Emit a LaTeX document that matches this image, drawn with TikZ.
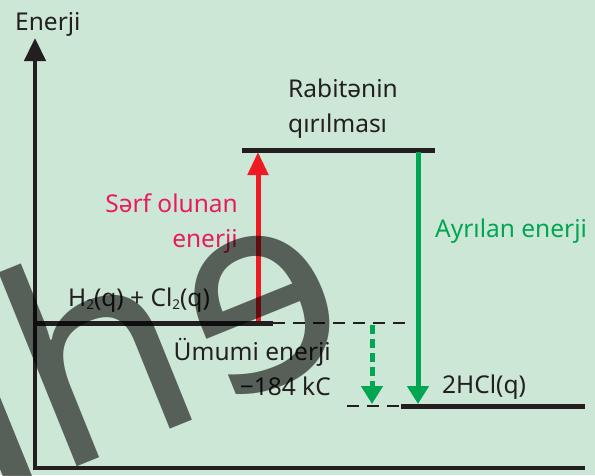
\documentclass[tikz,border=0pt]{standalone}
\usepackage{fontspec}
\setmainfont{Noto Sans}
\usetikzlibrary{arrows.meta}
\definecolor{bg}{RGB}{205,231,214}
\definecolor{ink}{RGB}{35,31,32}
\definecolor{arrred}{RGB}{237,28,36}
\definecolor{txtred}{RGB}{232,28,90}
\definecolor{grn}{RGB}{0,166,81}
\newcommand{\sub}[1]{\raisebox{-0.28ex}{\fontsize{13.5}{13.5}\selectfont #1}}
\tikzset{
  lbl/.style={inner sep=0pt, font=\fontsize{24.5}{28}\selectfont, text=ink},
  axis/.style={line width=4.6pt, draw=ink},
  level/.style={line width=5pt, draw=ink},
  guide/.style={line width=2.4pt, draw=ink, dash pattern=on 12pt off 8pt},
  upar/.style={line width=5pt, draw=arrred, -{Triangle[length=23pt,width=20pt]}},
  dnar/.style={line width=5pt, draw=grn, -{Triangle[length=18pt,width=21pt]}},
  dnard/.style={dnar, dash pattern=on 9pt off 5pt},
  wm/.style={inner sep=0pt, text=black, text opacity=0.58, font=\fontsize{275}{275}\selectfont, rotate=22},
  wmfill/.style={fill=black, fill opacity=0.58}
}
\begin{document}
\begin{tikzpicture}[x=1pt,y=-1pt]
\useasboundingbox (0,0) rectangle (595,475);
\clip (0,0) rectangle (595,475);
\fill[bg] (0,0) rectangle (595,475);
% coordinates
\coordinate (axb) at (35,470);
\coordinate (axt) at (35,38);
\coordinate (axl) at (33,468);
\coordinate (axr) at (585,468);
\coordinate (ra) at (35,323);
\coordinate (rb) at (273,323);
\coordinate (rc) at (412,323);
\coordinate (ta) at (242,150);
\coordinate (tb) at (435,150);
\coordinate (pa) at (401,406);
\coordinate (pb) at (585,406);
\coordinate (pc) at (347,406);
\coordinate (r1) at (258,321);
\coordinate (r2) at (258,152);
\coordinate (g1) at (418,152);
\coordinate (g2) at (418,404);
\coordinate (d1) at (372,325);
\coordinate (d2) at (372,404);
% axes
\draw[axis, -{Triangle[length=23pt,width=21pt]}] (axb) -- (axt);
\draw[axis] (axl) -- (axr);
% levels
\draw[guide] (rb) -- (rc);
\draw[guide] (pc) -- (pa);
\draw[upar] (r1) -- (r2);
\draw[level] (ra) -- (rb);
\draw[level] (ta) -- (tb);
\draw[level] (pa) -- (pb);
\draw[dnar] (g1) -- (g2);
\draw[dnard] (d1) -- (d2);
% labels
\node[lbl, anchor=base west] (en) at (15,30) {Enerji};
\node[lbl, anchor=base west] (rab1) at (288,97) {Rabitənin};
\node[lbl, anchor=base west] (rab2) at (288,132) {qırılması};
\node[lbl, anchor=base east, text=txtred] (sarf1) at (238,212) {Sərf olunan};
\node[lbl, anchor=base east, text=txtred] (sarf2) at (238,247) {enerji};
\node[lbl, anchor=base west, text=grn] (ayr) at (435,237) {Ayrılan enerji};
\node[lbl, anchor=base west] (reac) at (68,306) {H\sub{2}(q) + Cl\sub{2}(q)};
\node[lbl, anchor=base east] (um1) at (331,360) {Ümumi enerji};
\node[lbl, anchor=base east] (um2) at (331,395) {−184 kC};
\node[lbl, anchor=base west] (prod) at (442,393) {2HCl(q)};
% watermark
\fill[wmfill] (37,488.4) -- (-45.5,285.1) -- (-70.5,295.3) -- (12,498.6) -- cycle;
\node[wm, anchor=base] (wmh) at (134,444) {h};
\node[wm, xscale=-1, anchor=center] (wme) at (264,311) {e};
\end{tikzpicture}
\end{document}
